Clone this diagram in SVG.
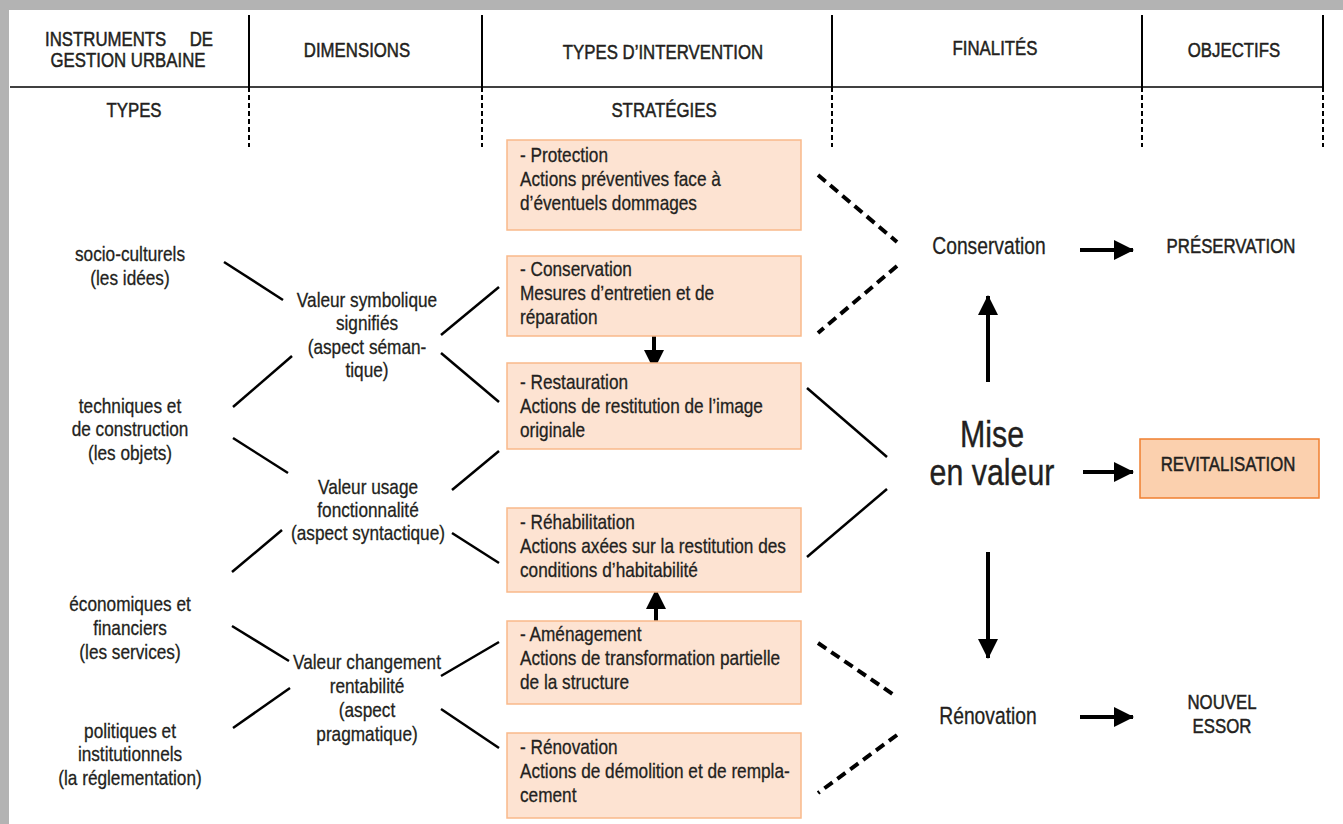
<svg xmlns="http://www.w3.org/2000/svg" width="1343" height="824" viewBox="0 0 1343 824">
<defs>
<style>
text{font-family:"Liberation Sans",Arial,sans-serif;fill:#231f20;font-size:21px;stroke:#231f20;stroke-width:0.3}
.h{font-size:20.5px;stroke-width:0.5}
.c{text-anchor:middle}
.e{text-anchor:end}
.big{font-size:37px;stroke-width:0.4}
.mid{font-size:23.5px}
.box{fill:#fde3d2;stroke:#f9b98a;stroke-width:1.5}
.rbox{fill:#fbd0ae;stroke:#f07f2f;stroke-width:1.5}
.ln{stroke:#000;stroke-width:2.5;fill:none}
.dl{stroke:#000;stroke-width:4;stroke-dasharray:10,6;fill:none}
.ar{stroke:#000;stroke-width:4;fill:none}
.vs{stroke:#000;stroke-width:2}
.vd{stroke:#000;stroke-width:2;stroke-dasharray:5,3}
</style>
<marker id="ah" markerUnits="userSpaceOnUse" markerWidth="20" markerHeight="20" refX="19" refY="10" orient="auto" viewBox="0 0 20 20">
<path d="M0,0 L20,10 L0,20 z" fill="#000"/>
</marker>
</defs>
<rect width="1343" height="824" fill="#fff"/>
<rect x="0" y="0" width="1343" height="10" fill="#b3b3b3"/>
<rect x="0" y="0" width="9" height="824" fill="#b3b3b3"/>

<g id="header">
<line x1="10" y1="87" x2="1324" y2="87" stroke="#000" stroke-width="1.5"/>
<line class="vs" x1="249" y1="15" x2="249" y2="87"/>
<line class="vs" x1="482" y1="15" x2="482" y2="87"/>
<line class="vs" x1="832" y1="15" x2="832" y2="87"/>
<line class="vs" x1="1142" y1="15" x2="1142" y2="87"/>
<line class="vs" x1="1323" y1="15" x2="1323" y2="87" stroke-width="3"/>
<line class="vd" x1="249" y1="87" x2="249" y2="147"/>
<line class="vd" x1="482" y1="87" x2="482" y2="147"/>
<line class="vd" x1="832" y1="87" x2="832" y2="147"/>
<line class="vd" x1="1142" y1="87" x2="1142" y2="147"/>
<line class="vd" x1="1323" y1="87" x2="1323" y2="147" stroke-width="3"/>
<text class="h" transform="translate(45,46) scale(0.82,1)">INSTRUMENTS</text>
<text class="h e" transform="translate(213,46) scale(0.82,1)">DE</text>
<text class="h c" transform="translate(128,67) scale(0.82,1)">GESTION URBAINE</text>
<text class="h c" transform="translate(357,57) scale(0.82,1)">DIMENSIONS</text>
<text class="h c" transform="translate(663,59) scale(0.82,1)">TYPES D’INTERVENTION</text>
<text class="h c" transform="translate(995,55) scale(0.82,1)">FINALITÉS</text>
<text class="h c" transform="translate(1234,57) scale(0.82,1)">OBJECTIFS</text>
<text class="h c" transform="translate(134,117) scale(0.82,1)">TYPES</text>
<text class="h c" transform="translate(664,117) scale(0.82,1)">STRATÉGIES</text>
</g>

<g id="connectors">
<line class="ln" x1="224" y1="262" x2="283" y2="300"/>
<line class="ln" x1="233" y1="407" x2="292" y2="356"/>
<line class="ln" x1="233" y1="438" x2="288" y2="473"/>
<line class="ln" x1="282" y1="530" x2="232" y2="572"/>
<line class="ln" x1="441" y1="335" x2="499" y2="287"/>
<line class="ln" x1="441" y1="353" x2="499" y2="402"/>
<line class="ln" x1="452" y1="490" x2="499" y2="451"/>
<line class="ln" x1="452" y1="533" x2="499" y2="563"/>
<line class="ln" x1="232" y1="626" x2="289" y2="661"/>
<line class="ln" x1="290" y1="688" x2="233" y2="728"/>
<line class="ln" x1="441" y1="676" x2="499" y2="642"/>
<line class="ln" x1="441" y1="709" x2="499" y2="748"/>
<line class="ln" x1="807" y1="388" x2="887" y2="457"/>
<line class="ln" x1="887" y1="489" x2="807" y2="557"/>
<line class="dl" x1="818" y1="175" x2="897" y2="242"/>
<line class="dl" x1="897" y1="266" x2="818" y2="333"/>
<line class="dl" x1="818" y1="643" x2="897" y2="697"/>
<line class="dl" x1="897" y1="735" x2="818" y2="793"/>
<line class="ar" x1="654" y1="333" x2="654" y2="369" marker-end="url(#ah)"/>
<line class="ar" x1="656" y1="621" x2="656" y2="590" marker-end="url(#ah)"/>
<line class="ar" x1="988" y1="382" x2="988" y2="296" marker-end="url(#ah)"/>
<line class="ar" x1="988" y1="552" x2="988" y2="658" marker-end="url(#ah)"/>
<line class="ar" x1="1080" y1="250" x2="1133" y2="250" marker-end="url(#ah)"/>
<line class="ar" x1="1083" y1="472" x2="1133" y2="472" marker-end="url(#ah)"/>
<line class="ar" x1="1080" y1="717" x2="1133" y2="717" marker-end="url(#ah)"/>
</g>

<g id="types">
<text class="c" transform="translate(130,261) scale(0.82,1)">socio-culturels</text>
<text class="c" transform="translate(130,285) scale(0.82,1)">(les idées)</text>
<text class="c" transform="translate(130,413) scale(0.82,1)">techniques et</text>
<text class="c" transform="translate(130,436) scale(0.82,1)">de construction</text>
<text class="c" transform="translate(130,460) scale(0.82,1)">(les objets)</text>
<text class="c" transform="translate(130,611) scale(0.82,1)">économiques et</text>
<text class="c" transform="translate(130,635) scale(0.82,1)">financiers</text>
<text class="c" transform="translate(130,659) scale(0.82,1)">(les services)</text>
<text class="c" transform="translate(130,738) scale(0.82,1)">politiques et</text>
<text class="c" transform="translate(130,761) scale(0.82,1)">institutionnels</text>
<text class="c" transform="translate(130,785) scale(0.82,1)">(la réglementation)</text>
</g>

<g id="dim-symbolique">
<text class="c" transform="translate(367,307) scale(0.82,1)">Valeur symbolique</text>
<text class="c" transform="translate(367,330) scale(0.82,1)">signifiés</text>
<text class="c" transform="translate(367,354) scale(0.82,1)">(aspect séman-</text>
<text class="c" transform="translate(367,377) scale(0.82,1)">tique)</text>
</g>
<g id="dim-usage">
<text class="c" transform="translate(368,494) scale(0.82,1)">Valeur usage</text>
<text class="c" transform="translate(368,517) scale(0.82,1)">fonctionnalité</text>
<text class="c" transform="translate(368,540) scale(0.82,1)">(aspect syntactique)</text>
</g>
<g id="dim-changement">
<text class="c" transform="translate(367,669) scale(0.82,1)">Valeur changement</text>
<text class="c" transform="translate(367,693) scale(0.82,1)">rentabilité</text>
<text class="c" transform="translate(367,717) scale(0.82,1)">(aspect</text>
<text class="c" transform="translate(367,741) scale(0.82,1)">pragmatique)</text>
</g>

<g id="s-protection">
<rect class="box" x="507" y="140" width="294" height="90"/>
<text transform="translate(520,162) scale(0.82,1)">- Protection</text>
<text transform="translate(520,186) scale(0.82,1)">Actions préventives face à</text>
<text transform="translate(520,210) scale(0.82,1)">d’éventuels dommages</text>
</g>
<g id="s-conservation">
<rect class="box" x="507" y="256" width="294" height="80"/>
<text transform="translate(520,276) scale(0.82,1)">- Conservation</text>
<text transform="translate(520,300) scale(0.82,1)">Mesures d’entretien et de</text>
<text transform="translate(520,324) scale(0.82,1)">réparation</text>
</g>
<g id="s-restauration">
<rect class="box" x="507" y="363" width="294" height="86"/>
<text transform="translate(520,389) scale(0.82,1)">- Restauration</text>
<text transform="translate(520,413) scale(0.82,1)">Actions de restitution de l’image</text>
<text transform="translate(520,437) scale(0.82,1)">originale</text>
</g>
<g id="s-rehabilitation">
<rect class="box" x="507" y="508" width="294" height="84"/>
<text transform="translate(520,529) scale(0.82,1)">- Réhabilitation</text>
<text transform="translate(520,553) scale(0.82,1)">Actions axées sur la restitution des</text>
<text transform="translate(520,577) scale(0.82,1)">conditions d’habitabilité</text>
</g>
<g id="s-amenagement">
<rect class="box" x="507" y="621" width="294" height="83"/>
<text transform="translate(520,641) scale(0.82,1)">- Aménagement</text>
<text transform="translate(520,665) scale(0.82,1)">Actions de transformation partielle</text>
<text transform="translate(520,689) scale(0.82,1)">de la structure</text>
</g>
<g id="s-renovation">
<rect class="box" x="507" y="733" width="294" height="85"/>
<text transform="translate(520,754) scale(0.82,1)">- Rénovation</text>
<text transform="translate(520,778) scale(0.82,1)">Actions de démolition et de rempla-</text>
<text transform="translate(520,802) scale(0.82,1)">cement</text>
</g>

<g id="f-conservation"><text class="c mid" transform="translate(989,254) scale(0.82,1)">Conservation</text></g>
<g id="f-mise"><text class="c big" transform="translate(992,447) scale(0.82,1)">Mise</text><text class="c big" transform="translate(992,485) scale(0.82,1)">en valeur</text></g>
<g id="f-renovation"><text class="c mid" transform="translate(988,724) scale(0.82,1)">Rénovation</text></g>

<g id="o-preservation"><text class="h c" transform="translate(1231,253) scale(0.82,1)">PRÉSERVATION</text></g>
<g id="o-revitalisation">
<rect class="rbox" x="1140" y="439" width="179" height="59"/>
<text class="h c" transform="translate(1228,471) scale(0.82,1)">REVITALISATION</text>
</g>
<g id="o-nouvel"><text class="h c" transform="translate(1222,709) scale(0.82,1)">NOUVEL</text><text class="h c" transform="translate(1222,733) scale(0.82,1)">ESSOR</text></g>
</svg>
